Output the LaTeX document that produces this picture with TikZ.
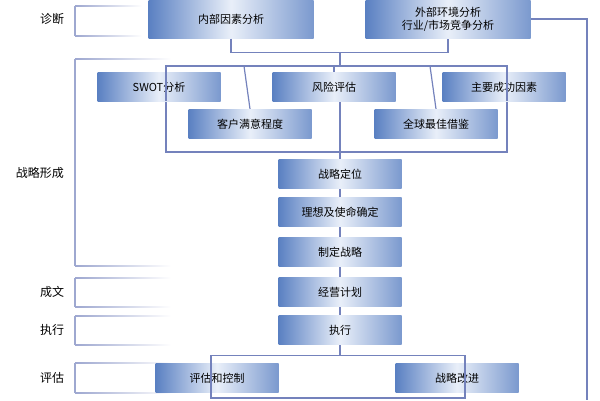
\documentclass[tikz,border=0pt]{standalone}
\usepackage{fontspec}
\newfontfamily\cjk{Noto Sans CJK SC}
\usetikzlibrary{positioning}
\definecolor{lineblue}{HTML}{7482BC}
\definecolor{boxblue}{HTML}{5A80C2}
\definecolor{boxlight}{HTML}{E9EFF9}
\begin{document}
\begin{tikzpicture}[x=1pt,y=-1pt,
    line width=1.2pt,
    bb/.style={%
      rectangle, draw=none, left color=boxblue, right color=boxblue!80,
      middle color=boxlight, minimum width=123pt, minimum height=29pt,
      inner sep=2pt, align=center, font=\cjk\fontsize{11}{13}\selectfont
    },
    big/.style={bb, minimum width=165pt, minimum height=38pt},
    lbl/.style={font=\cjk\fontsize{12}{14}\selectfont}
]
    \useasboundingbox (0,0) rectangle (600,400);

    % stage brackets on the left
    \foreach \ya/\yb/\xe in {6/36/142, 59/266/171, 278/307/171, 316/345/171, 363/393/171}{
      \draw[lineblue!70] (75,\ya) -- (75,\yb);
      \shade[left color=lineblue!70, right color=white] (75,\ya-0.6) rectangle (\xe,\ya+0.6);
      \shade[left color=lineblue!70, right color=white] (75,\yb-0.6) rectangle (\xe,\yb+0.6);
    }
    \node[lbl] (l1) at (52,19)  {诊断};
    \node[lbl] (l2) at (40,173) {战略形成};
    \node[lbl] (l3) at (52,292) {成文};
    \node[lbl] (l4) at (52,330) {执行};
    \node[lbl] (l5) at (52,378) {评估};

    \node[big] (int) at (231,19) {内部因素分析};
    \node[big] (ext) at (448,19) {外部环境分析\\行业/市场竞争分析};

    \node[bb] (swot) at (159,87)  {SWOT分析};
    \node[bb] (risk) at (334,87)  {风险评估};
    \node[bb] (key)  at (504,87)  {主要成功因素};
    \node[bb] (cust) at (250,124) {客户满意程度};
    \node[bb] (glob) at (436,124) {全球最佳借鉴};

    \node[bb] (pos)  at (340,174) {战略定位};
    \node[bb] (mis)  at (340,212) {理想及使命确定};
    \node[bb] (form) at (340,252) {制定战略};
    \node[bb] (plan) at (340,292) {经营计划};
    \node[bb] (exe)  at (340,330) {执行};
    \node[bb] (eval) at (217,378) {评估和控制};
    \node[bb] (impr) at (457,378) {战略改进};

    \coordinate (top) at (340,66);
    \coordinate (bot) at (340,152);
    \coordinate (rt) at (587,400);

    \begin{scope}[on background layer/.try, lineblue]
    \draw (int.south) -- ++(0,14) -| (ext.south);
    \draw (340,52) -- (top);
    \draw (166,101) |- (top) -| (507,101);
    \draw (244,66) -- (cust.north);
    \draw (430,66) -- (glob.north);
    \draw (334,66) -- (risk.north);
    \draw (swot.south -| 166,0) |- (bot) -| (key.south -| 507,0);
    \draw (risk.south -| 340,0) -- (pos.north);
    \draw (pos) -- (mis);
    \draw (mis) -- (form);
    \draw (form) -- (plan);
    \draw (plan) -- (exe);
    \draw (exe.south) -- ++(0,10) coordinate (split);
    \draw (split -| 211,0) -- (split -| 465,0);
    \draw (211,355) -- (211,398) -- (465,398) -- (465,355);
    \draw (ext.east) -| (rt);
    \end{scope}
\end{tikzpicture}
\end{document}
